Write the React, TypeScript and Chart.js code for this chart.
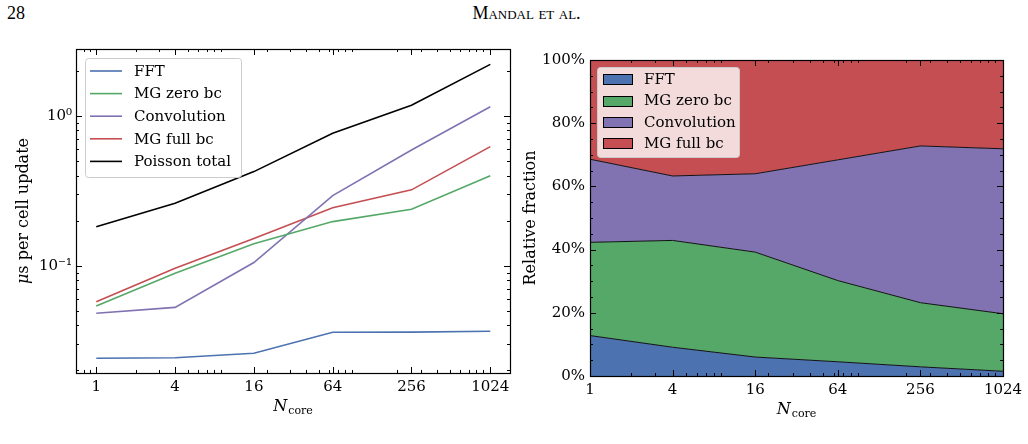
import React, { useEffect, useRef } from "react";
import { Chart, registerables } from "chart.js";
Chart.register(...registerables);

const FONT = "'DejaVu Serif', serif";

const cores = [1, 4, 16, 64, 256, 1024];
const xTickValues = [1, 4, 16, 64, 256, 1024];

// Left panel: microseconds per cell update
const fftTime = [0.0241, 0.0243, 0.026, 0.0359, 0.036, 0.0365];
const mgZeroTime = [0.0538, 0.0889, 0.14, 0.197, 0.238, 0.399];
const convTime = [0.0481, 0.0527, 0.105, 0.294, 0.593, 1.153];
const mgFullTime = [0.0575, 0.0961, 0.152, 0.244, 0.321, 0.624];
const poissonTotal = [0.182, 0.261, 0.425, 0.766, 1.18, 2.21];
const yLogTicks = [0.1, 1];
const yLogTickLabels = ["10\u207B\u00B9", "10\u2070"];

// Right panel: relative fraction (%)
const fftFrac = [12.8, 9.1, 6.0, 4.5, 2.9, 1.5];
const mgZeroFrac = [29.5, 33.8, 33.2, 25.7, 20.3, 18.2];
const convFrac = [26.3, 20.4, 24.8, 38.2, 49.6, 52.2];
const mgFullFrac = [31.4, 36.7, 36.0, 31.6, 27.2, 28.1];
const pctTicks = [0, 20, 40, 60, 80, 100];
const pctMinorTicks = [5, 10, 15, 25, 30, 35, 45, 50, 55, 65, 70, 75, 85, 90, 95];

const seriesNames = ["FFT", "MG zero bc", "Convolution", "MG full bc"];
const BLUE = "#4C72B0";
const GREEN = "#55A868";
const PURPLE = "#8172B2";
const RED = "#C44E52";

function logMinors(min: number, max: number) {
  const out: number[] = [];
  for (let e = -3; e <= 4; e++) {
    for (let m = 2; m <= 9; m++) {
      const v = m * Math.pow(10, e);
      if (v >= min * 1.0001 && v <= max * 0.9999) out.push(v);
    }
  }
  return out;
}

function drawFrameTicks(chart: any, xMajor: number[], xMinor: number[], yMajor: number[], yMinor: number[]) {
  const ctx = chart.ctx;
  const { left, right, top, bottom } = chart.chartArea;
  const xs = chart.scales.x;
  const ys = chart.scales.y;
  const MAJ = 6;
  const MIN = 3;
  ctx.save();
  ctx.strokeStyle = "#000";
  ctx.lineWidth = 1;
  ctx.beginPath();
  const xt = (v: number, len: number) => {
    const p = Math.round(xs.getPixelForValue(v)) + 0.5;
    ctx.moveTo(p, bottom);
    ctx.lineTo(p, bottom - len);
    ctx.moveTo(p, top);
    ctx.lineTo(p, top + len);
  };
  const yt = (v: number, len: number) => {
    const p = Math.round(ys.getPixelForValue(v)) + 0.5;
    ctx.moveTo(left, p);
    ctx.lineTo(left + len, p);
    ctx.moveTo(right, p);
    ctx.lineTo(right - len, p);
  };
  xMajor.forEach((v) => xt(v, MAJ));
  xMinor.forEach((v) => xt(v, MIN));
  yMajor.forEach((v) => yt(v, MAJ));
  yMinor.forEach((v) => yt(v, MIN));
  ctx.stroke();
  ctx.lineWidth = 1.2;
  ctx.strokeRect(Math.round(left) + 0.5, Math.round(top) + 0.5, Math.round(right - left), Math.round(bottom - top));
  ctx.restore();
}

function drawXTitle(chart: any, baseline: number) {
  const ctx = chart.ctx;
  const { left, right } = chart.chartArea;
  const cx = (left + right) / 2;
  ctx.save();
  ctx.fillStyle = "#000";
  ctx.textBaseline = "alphabetic";
  ctx.textAlign = "left";
  ctx.font = `italic 16px ${FONT}`;
  const wN = ctx.measureText("N").width;
  ctx.font = `11px ${FONT}`;
  const wSub = ctx.measureText("core").width;
  const start = cx - (wN + wSub + 1) / 2;
  ctx.font = `italic 16px ${FONT}`;
  ctx.fillText("N", start, baseline);
  ctx.font = `11px ${FONT}`;
  ctx.fillText("core", start + wN + 1, baseline + 3);
  ctx.restore();
}

function drawYTitle(chart: any, cx: number, parts: { t: string; italic?: boolean }[]) {
  const ctx = chart.ctx;
  const { top, bottom } = chart.chartArea;
  const cy = (top + bottom) / 2;
  ctx.save();
  ctx.translate(cx, cy);
  ctx.rotate(-Math.PI / 2);
  ctx.fillStyle = "#000";
  ctx.textBaseline = "middle";
  ctx.textAlign = "left";
  let total = 0;
  const widths = parts.map((p) => {
    ctx.font = `${p.italic ? "italic " : ""}16px ${FONT}`;
    const w = ctx.measureText(p.t).width;
    total += w;
    return w;
  });
  let x = -total / 2;
  parts.forEach((p, i) => {
    ctx.font = `${p.italic ? "italic " : ""}16px ${FONT}`;
    ctx.fillText(p.t, x, 0);
    x += widths[i];
  });
  ctx.restore();
}

function roundRect(ctx: any, x: number, y: number, w: number, h: number, r: number) {
  ctx.beginPath();
  ctx.moveTo(x + r, y);
  ctx.lineTo(x + w - r, y);
  ctx.quadraticCurveTo(x + w, y, x + w, y + r);
  ctx.lineTo(x + w, y + h - r);
  ctx.quadraticCurveTo(x + w, y + h, x + w - r, y + h);
  ctx.lineTo(x + r, y + h);
  ctx.quadraticCurveTo(x, y + h, x, y + h - r);
  ctx.lineTo(x, y + r);
  ctx.quadraticCurveTo(x, y, x + r, y);
  ctx.closePath();
}

function LeftChart() {
  const ref = useRef<HTMLCanvasElement>(null);
  useEffect(() => {
    const xMinor = logMinors(0.7071, 1448);
    const yMinor = logMinors(0.0192, 2.8);
    const mk = (arr: number[]) => cores.map((c, i) => ({ x: c, y: arr[i] }));
    const lineNames = [...seriesNames, "Poisson total"];
    const lineColors = [BLUE, GREEN, PURPLE, RED, "#000000"];
    const lineData = [fftTime, mgZeroTime, convTime, mgFullTime, poissonTotal];
    const plugin = {
      id: "leftDeco",
      afterDatasetsDraw(chart: any) {
        drawFrameTicks(chart, xTickValues, xMinor, yLogTicks, yMinor);
      },
      afterDraw(chart: any) {
        const ctx = chart.ctx;
        ctx.save();
        roundRect(ctx, 85.5, 58.5, 156, 119, 3);
        ctx.fillStyle = "rgba(255,255,255,0.8)";
        ctx.fill();
        ctx.strokeStyle = "#cccccc";
        ctx.lineWidth = 1;
        ctx.stroke();
        ctx.font = `15px ${FONT}`;
        ctx.textBaseline = "middle";
        ctx.textAlign = "left";
        lineNames.forEach((n, i) => {
          const y = 71 + i * 22.6;
          ctx.strokeStyle = lineColors[i];
          ctx.lineWidth = 1.6;
          ctx.beginPath();
          ctx.moveTo(90, y);
          ctx.lineTo(122, y);
          ctx.stroke();
          ctx.fillStyle = "#000";
          ctx.fillText(n, 134, y + 1);
        });
        ctx.restore();
        drawXTitle(chart, 411);
        drawYTitle(chart, 24, [{ t: "\u03BC", italic: true }, { t: "s per cell update" }]);
      },
    };
    const chart = new Chart(ref.current!, {
      type: "line",
      data: {
        datasets: lineData.map((d, i) => ({
          label: lineNames[i],
          data: mk(d),
          borderColor: lineColors[i],
          backgroundColor: lineColors[i],
          borderWidth: 1.6,
          pointRadius: 0,
          tension: 0,
          fill: false,
        })),
      },
      options: {
        animation: false,
        responsive: false,
        devicePixelRatio: 1,
        layout: { padding: { left: 0, top: 49, right: 5, bottom: 0 } },
        plugins: { legend: { display: false }, tooltip: { enabled: false } },
        scales: {
          x: {
            type: "logarithmic",
            min: 0.7071,
            max: 1448,
            grid: { display: false, drawTicks: false },
            border: { display: false },
            ticks: {
              color: "#000",
              padding: 5,
              font: { family: FONT, size: 15 },
              autoSkip: false,
              maxRotation: 0,
              callback: (v: any) => String(v),
            },
            afterBuildTicks: (s: any) => {
              s.ticks = xTickValues.map((v) => ({ value: v }));
            },
            afterFit: (s: any) => {
              s.height = 71;
            },
          },
          y: {
            type: "logarithmic",
            min: 0.0192,
            max: 2.8,
            grid: { display: false, drawTicks: false },
            border: { display: false },
            ticks: {
              color: "#000",
              padding: 4,
              font: { family: FONT, size: 15 },
              autoSkip: false,
              callback: (v: any) => {
                const i = yLogTicks.findIndex((t) => Math.abs(t - v) < 1e-9);
                return i >= 0 ? yLogTickLabels[i] : "";
              },
            },
            afterBuildTicks: (s: any) => {
              s.ticks = yLogTicks.map((v) => ({ value: v }));
            },
            afterFit: (s: any) => {
              s.width = 76;
            },
          },
        },
      },
      plugins: [plugin],
    } as any);
    return () => chart.destroy();
  }, []);
  return <canvas ref={ref} width={515} height={444} style={{ position: "absolute", left: 0, top: 0 }} />;
}

function RightChart() {
  const ref = useRef<HTMLCanvasElement>(null);
  useEffect(() => {
    const xMinor = logMinors(1, 1024);
    const fracData = [fftFrac, mgZeroFrac, convFrac, mgFullFrac];
    const colors = [BLUE, GREEN, PURPLE, RED];
    const plugin = {
      id: "rightDeco",
      afterDatasetsDraw(chart: any) {
        drawFrameTicks(chart, xTickValues, xMinor, pctTicks, pctMinorTicks);
      },
      afterDraw(chart: any) {
        const ctx = chart.ctx;
        ctx.save();
        roundRect(ctx, 82.5, 67.5, 142, 90, 3);
        ctx.fillStyle = "rgba(255,255,255,0.8)";
        ctx.fill();
        ctx.strokeStyle = "#cccccc";
        ctx.lineWidth = 1;
        ctx.stroke();
        ctx.font = `15px ${FONT}`;
        ctx.textBaseline = "middle";
        ctx.textAlign = "left";
        seriesNames.forEach((n, i) => {
          const y = 79.3 + i * 21.3;
          ctx.fillStyle = colors[i];
          ctx.fillRect(88.5, Math.round(y - 5) + 0.5, 29, 10);
          ctx.strokeStyle = "#000";
          ctx.lineWidth = 1;
          ctx.strokeRect(88.5, Math.round(y - 5) + 0.5, 29, 10);
          ctx.fillStyle = "#000";
          ctx.fillText(n, 129, y + 1);
        });
        ctx.restore();
        drawXTitle(chart, 414);
        drawYTitle(chart, 16, [{ t: "Relative fraction" }]);
      },
    };
    const chart = new Chart(ref.current!, {
      type: "line",
      data: {
        datasets: fracData.map((d, i) => ({
          label: seriesNames[i],
          data: cores.map((c, j) => ({ x: c, y: d[j] })),
          borderColor: "#111111",
          backgroundColor: colors[i],
          borderWidth: 1,
          pointRadius: 0,
          tension: 0,
          fill: i === 0 ? "origin" : "-1",
        })),
      },
      options: {
        animation: false,
        responsive: false,
        devicePixelRatio: 1,
        layout: { padding: { left: 0, top: 60, right: 25, bottom: 0 } },
        plugins: { legend: { display: false }, tooltip: { enabled: false } },
        scales: {
          x: {
            type: "logarithmic",
            min: 1,
            max: 1024,
            grid: { display: false, drawTicks: false },
            border: { display: false },
            ticks: {
              color: "#000",
              padding: 5,
              font: { family: FONT, size: 15 },
              autoSkip: false,
              maxRotation: 0,
              callback: (v: any) => String(v),
            },
            afterBuildTicks: (s: any) => {
              s.ticks = xTickValues.map((v) => ({ value: v }));
            },
            afterFit: (s: any) => {
              s.height = 68;
            },
          },
          y: {
            type: "linear",
            stacked: true,
            min: 0,
            max: 100,
            grid: { display: false, drawTicks: false },
            border: { display: false },
            ticks: {
              color: "#000",
              padding: 5,
              font: { family: FONT, size: 15 },
              autoSkip: false,
              callback: (v: any) => `${v}%`,
            },
            afterBuildTicks: (s: any) => {
              s.ticks = pctTicks.map((v) => ({ value: v }));
            },
            afterFit: (s: any) => {
              s.width = 75;
            },
          },
        },
      },
      plugins: [plugin],
    } as any);
    return () => chart.destroy();
  }, []);
  return <canvas ref={ref} width={513} height={444} style={{ position: "absolute", left: 515, top: 0 }} />;
}

export default function App() {
  return (
    <div style={{ position: "fixed", left: 0, top: 0, width: 1028, height: 444, background: "#fff", overflow: "hidden" }}>
      <div
        style={{
          position: "absolute",
          left: 7,
          top: 3,
          fontFamily: "'Liberation Serif', serif",
          fontSize: 18,
          lineHeight: "20px",
          color: "#000",
        }}
      >
        28
      </div>
      <div
        style={{
          position: "absolute",
          left: 0,
          width: 1053,
          top: 3,
          textAlign: "center",
          fontFamily: "'Liberation Serif', serif",
          fontSize: 18,
          lineHeight: "20px",
          fontVariant: "small-caps",
          color: "#000",
        }}
      >
        Mandal et al.
      </div>
      <LeftChart />
      <RightChart />
    </div>
  );
}
